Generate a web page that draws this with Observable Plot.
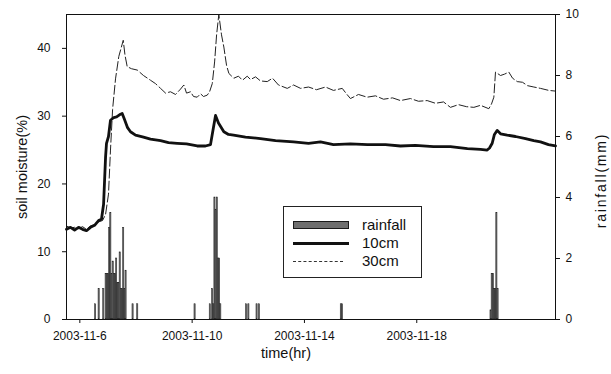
<!DOCTYPE html>
<html><head><meta charset="utf-8">
<script src="https://cdn.jsdelivr.net/npm/d3@7"></script>
<script src="https://cdn.jsdelivr.net/npm/@observablehq/plot@0.6"></script>
<style>
body{margin:0;background:#fff;font-family:"Liberation Sans",Arial,sans-serif;color:#111;}
#wrap{position:relative;width:611px;height:374px;}
#legend{position:absolute;left:283px;top:206px;width:137px;height:70px;border:1px solid #222;background:#fff;}
.sw{position:absolute;left:9px;width:56px;}
.lt{position:absolute;left:78px;font-size:15px;line-height:18px;height:18px;}
</style></head><body><div id="wrap"><div id="legend"></div></div>
<script>
// base time: 2003-11-06 00:00, all times in hours from it
const startDate = Date.UTC(2003, 10, 6, 0, 0);
const xDomainHours = [-11.4, 406.6];

const hours10 = [-11.4,-8,-4.5,-1.1,2.3,5.7,9.1,12.6,16,18.5,20.3,22,22.8,24.5,26.2,29,31.4,33.9,36.2,38.2,40.8,43.3,47.6,54.4,60.4,69,75.8,83.2,91.2,100.3,107.4,111.7,113.4,116,118.5,123.1,127.1,131.4,141.6,154.4,167.3,182.7,195.5,205.7,216.8,231.3,245.9,261.3,274.1,286.9,302.3,316.8,331.3,342.5,348.2,350.2,352.5,354.4,356.8,359.6,365.3,372.4,381,388,393.8,400.6,406.6];
const moist10 = [13.3,13.6,13.2,13.6,13.3,13.1,13.6,13.9,14.6,14.8,17,24,26,27,29.4,29.8,29.9,30.2,30.4,29.5,28.3,27.7,27.2,26.9,26.6,26.4,26.1,26.0,25.9,25.6,25.6,25.8,27.5,30.1,29.0,27.7,27.3,27.2,26.9,26.7,26.4,26.2,26.0,26.2,25.8,25.9,25.8,25.8,25.6,25.7,25.5,25.5,25.2,25.1,25.0,25.3,26.0,27.3,27.9,27.4,27.2,27.0,26.7,26.4,26.2,25.8,25.6];

const hours30 = [-11.4,-8,-4.5,-1.1,2.3,5.7,9.1,12.6,16,19.4,22,24.5,26.2,28,30.5,33.3,37.1,38.6,40.5,44.2,49.1,54.4,60.4,64.7,69,73.3,77.5,81.8,86.1,88.9,91.2,94.6,97.2,100.3,103.2,105.7,108.9,110.9,113.2,115.2,116.9,118.8,121.1,123.1,125.4,127.4,131.6,135.6,139,143.1,145.9,150.2,154.4,160.2,164.7,169.8,177.3,182.7,188.7,195.5,202.3,210,216.8,224.3,227.9,231.3,238.2,245.6,252.7,259.6,267.3,274.1,282.6,289.5,296.9,304,310.9,316.8,323.7,330.5,336.8,342.5,349.6,351.9,353.9,355.3,357,359.6,363,366.7,369.9,373.9,378.4,382.7,388.1,393.8,400.9,406.6];
const moist30 = [13.8,13.5,13.6,13.4,13.7,13.3,13.8,14.0,14.4,14.6,15.5,18.5,25,31,35.5,38.8,41.2,39,37.3,37.0,36.8,36.0,35.3,34.8,34.1,33.4,33.6,33.2,34.0,34.6,33.4,33.6,32.9,32.8,33.3,32.9,33.1,33.6,34.8,38,42,45,42,40.2,37.5,36.3,35.6,35.9,35.3,35.9,35.4,35.8,35.2,35.1,35.6,34.6,34.1,34.6,34.1,34.3,33.9,34.3,33.8,34.1,33.3,32.6,33.2,32.8,33.0,32.5,32.7,32.3,32.6,32.2,32.3,31.9,32.1,31.3,31.7,31.4,31.3,31.6,31.1,31.8,32.8,36.5,36.3,36.0,36.2,36.5,35.6,35.1,35.0,34.5,34.3,34.1,33.8,33.7];

const rainHours = [13,16,20,22,23,24,25,26,27,28,29,30,31,32,33,34,35,36,37,38,39,45,49,98,111,113,114,115,116,117,118,119,120,142,144,151,153,223,224,351,352,353,354,355,356,357];
const rainMm =    [0.5,1.0,1.0,1.5,1.5,1.5,3.0,3.5,1.5,1.9,1.5,1.5,2.0,1.2,1.2,2.2,1.0,1.0,3.0,1.0,1.6,0.5,0.5,0.5,0.5,1.0,0.5,4.0,3.6,4.0,2.0,2.0,0.5,0.5,0.5,0.5,0.5,0.5,0.5,0.3,1.5,1.5,1.0,1.0,3.5,1.0];

const moistTicks = [0, 10, 20, 30, 40];
const moistMax = 45;
const rainTicks = [0, 2, 4, 6, 8, 10];
const rainMax = 10;
const dateTickDays = ["2003-11-06", "2003-11-10", "2003-11-14", "2003-11-18"];

const yTitle = "soil moisture(%)";
const y2Title = "rainfall(mm)";
const xTitle = "time(hr)";
const seriesNames = ["rainfall", "10cm", "30cm"];

const H = 3600e3;
const toDate = h => new Date(startDate + h * H);
const k = moistMax / rainMax;
const line10 = hours10.map((h, i) => ({t: toDate(h), v: moist10[i]}));
const line30 = hours30.map((h, i) => ({t: toDate(h), v: moist30[i]}));
const rain = rainHours.map((h, i) => ({t1: toDate(h), t2: toDate(h + 1), v: rainMm[i] * k}));
const fmt = d => `${d.getUTCFullYear()}-${d.getUTCMonth() + 1}-${d.getUTCDate()}`;

const plot = Plot.plot({
  width: 611, height: 374,
  marginLeft: 66, marginRight: 56, marginTop: 14, marginBottom: 55,
  style: {fontFamily: "Liberation Sans, Arial, sans-serif", fontSize: "12px", color: "#111", background: "#fff"},
  x: {type: "utc", domain: xDomainHours.map(toDate)},
  y: {domain: [0, moistMax]},
  marks: [
    Plot.rect(rain, {x1: "t1", x2: "t2", y1: 0, y2: "v", fill: "#6e6e6e", stroke: "#1a1a1a", strokeWidth: 0.5}),
    Plot.line(line30, {x: "t", y: "v", stroke: "#222", strokeWidth: 1, strokeDasharray: "9,3"}),
    Plot.line(line10, {x: "t", y: "v", stroke: "#111", strokeWidth: 2.8}),
    Plot.frame({stroke: "#111"}),
    Plot.axisY(moistTicks, {anchor: "left", tickSize: 4, tickPadding: 12, label: null}),
    Plot.axisY(rainTicks.map(r => r * k), {anchor: "right", tickSize: 4, tickPadding: 6, tickFormat: d => Math.round(d / k), label: null}),
    Plot.axisX(dateTickDays.map(s => new Date(s + "T00:00Z")), {anchor: "bottom", tickSize: 4, tickPadding: 8, tickFormat: fmt, label: null}),
    Plot.text([yTitle], {frameAnchor: "left", text: d => d, rotate: -90, dx: -44, textAnchor: "middle", lineAnchor: "middle", fontSize: 14.5, fill: "#111"}),
    Plot.text([y2Title], {frameAnchor: "right", text: d => d, rotate: -90, dx: 46, dy: 13.5, textAnchor: "middle", lineAnchor: "middle", fontSize: 14, fill: "#111"}),
    Plot.text([xTitle], {frameAnchor: "bottom", text: d => d, dy: 38, dx: -25, textAnchor: "middle", fontSize: 14.5, fill: "#111"})
  ]
});
const wrap = document.getElementById("wrap");
wrap.insertBefore(plot, wrap.firstChild);
plot.querySelectorAll("text").forEach(t => { if (t.textContent === y2Title) t.setAttribute("letter-spacing", "1.8"); });

// legend
const lg = document.getElementById("legend");
const rowsY = [18, 36, 54];
const swatches = [
  `<div class="sw" style="top:${rowsY[0]-4}px;height:8px;background:#6e6e6e;border:1px solid #1a1a1a;box-sizing:border-box;"></div>`,
  `<div class="sw" style="top:${rowsY[1]-1.5}px;height:3px;background:#111;"></div>`,
  `<div class="sw" style="top:${rowsY[2]-0.5}px;height:0;border-top:1px dashed #333;width:50px;"></div>`
];
seriesNames.forEach((name, i) => {
  lg.insertAdjacentHTML("beforeend", swatches[i] + `<div class="lt" style="top:${rowsY[i]-9}px">${name}</div>`);
});
</script>
</body></html>
